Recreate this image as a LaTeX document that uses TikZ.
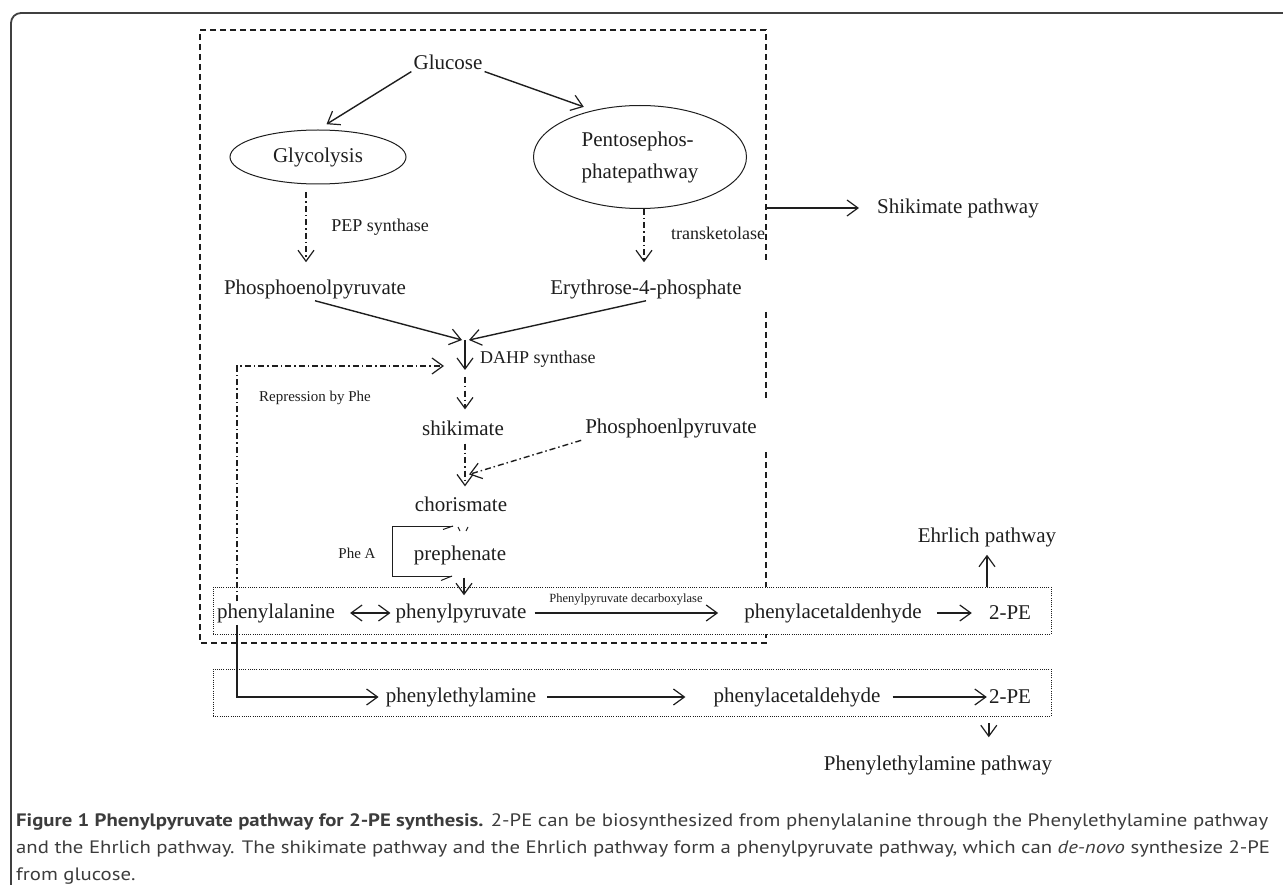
\documentclass[tikz,border=0pt]{standalone}
\usepackage{fontspec}
\setmainfont{Liberation Serif}
\newfontfamily\capfont{PT Sans}
\usetikzlibrary{arrows.meta,shapes.geometric,calc}
\definecolor{ink}{HTML}{1E1E1E}
\definecolor{captxt}{HTML}{3C3C3C}
\newlength{\capw}
\newcommand{\capfontsz}{\capfont\fontsize{18}{22}\selectfont}
\newcommand{\capone}{\textbf{Figure 1 Phenylpyruvate pathway for 2-PE synthesis.} 2-PE can be biosynthesized from phenylalanine through the Phenylethylamine pathway}
\newcommand{\captwo}{and the Ehrlich pathway. The shikimate pathway and the Ehrlich pathway form a phenylpyruvate pathway, which can \textit{de-novo} synthesize 2-PE}
\newcommand{\capthree}{from glucose.}
\AtBeginDocument{%
  \settowidth{\capw}{\capfontsz\capone}%
  \pgfmathsetmacro\capsx{1252/\capw}}

\begin{document}
\begin{tikzpicture}[x=1pt,y=-1pt,
  barb/.tip={Straight Barb[length=11pt,width=16pt,line width=1.2pt]},
  lbl/.style={font=\fontsize{21}{25}\selectfont, text=ink, inner sep=2pt},
  enz/.style={font=\fontsize{18}{21}\selectfont, text=ink, inner sep=1pt},
  small/.style={font=\fontsize{15}{18}\selectfont, text=ink, inner sep=1pt},
  arr/.style={draw=ink, line width=1.4pt, -barb},
  dblarr/.style={arr, barb-barb},
  dasharr/.style={arr, dash pattern=on 6pt off 3pt on 1.5pt off 3pt},
  dashbox/.style={draw=ink, line width=1.1pt, dash pattern=on 6pt off 4pt},
  dotbox/.style={draw=ink, line width=0.9pt, dash pattern=on 1pt off 1.2pt, fill=white,
    minimum width=838pt, minimum height=47pt, inner sep=0pt}]

\useasboundingbox (0,0) rectangle (1283,885);

% frame of the figure
\draw[line width=1.8pt, black!75, rounded corners=10pt] (1283,13) -- (11,13) -- (11,885);

% shikimate pathway box
\draw[dashbox] (766,260) -- (766,30) -- (200,30) -- (200,643) -- (766,643) -- (766,450);
\draw[dashbox] (766,312) -- (766,398);

% Ehrlich and phenylethylamine rows
\node[dotbox] (ehrbox) at (632,610.5) {};
\node[dotbox] (peabox) at (632,692.5) {};

% upper part
\node[lbl] (glucose) at (448,62) {Glucose};
\node[lbl, draw=ink, line width=1pt, ellipse, minimum width=176pt, minimum height=54pt, inner sep=0pt] (glyco) at (318,157) {Glycolysis};
\node[lbl, draw=ink, line width=1pt, ellipse, minimum width=213pt, minimum height=103pt, inner sep=0pt,
  align=left, font=\fontsize{21}{32}\selectfont] (ppp) at (640,157) {Pentosephos-\\phatepathway};
\node[enz] (pepsyn) at (380,227) {PEP synthase};
\node[enz] (transk) at (718,233) {transketolase};
\node[lbl] (pep) at (315,289) {Phosphoenolpyruvate};
\node[lbl] (e4p) at (646,289) {Erythrose-4-phosphate};
\node[lbl, anchor=west] (shikpath) at (875,208) {Shikimate pathway};
\coordinate (skout) at (766,208);
\coordinate (dahp) at (465,340);
\coordinate (rtip) at (444,366);
\node[enz, anchor=west] (dahplbl) at (479,359) {DAHP synthase};
\node[small] (repress) at (315,398) {Repression by Phe};
\node[lbl] (shik) at (463,428) {shikimate};
\node[lbl] (pep2) at (671,428) {Phosphoenlpyruvate};
\node[lbl] (chor) at (461,504) {chorismate};
\node[small] (phea) at (357,553) {Phe A};
\node[lbl] (preph) at (460,555) {prephenate};

% rows
\node[lbl] (phe) at (276,613) {phenylalanine};
\node[lbl] (phpyr) at (461,613) {phenylpyruvate};
\node[font=\fontsize{12.5}{15}\selectfont, text=ink, inner sep=1pt] (decarb) at (626,600) {Phenylpyruvate decarboxylase};
\node[lbl] (phald) at (833,613) {phenylacetaldenhyde};
\node[lbl] (twope) at (1010,613) {2-PE};
\node[lbl] (ehrlich) at (987,537) {Ehrlich pathway};
\node[lbl] (pheam) at (461,697) {phenylethylamine};
\node[lbl] (phacet) at (797,697) {phenylacetaldehyde};
\node[lbl] (twopeb) at (1010,697) {2-PE};
\node[lbl] (pheampath) at (938,765) {Phenylethylamine pathway};

% connectors
\draw[arr, shorten >=10pt] (glucose.south west) -- (glyco.north);
\draw[arr, shorten >=10pt] (glucose.south east) -- (ppp.135);
\draw[dasharr, shorten <=8pt, shorten >=15pt] ([xshift=-12pt]glyco.south) -- ([xshift=-12pt]glyco.south |- pep.north);
\draw[dasharr, shorten >=15pt] ([xshift=4pt]ppp.south) -- ([xshift=4pt]ppp.south |- e4p.north);
\draw[arr, shorten >=16pt] (skout) -- (shikpath.west);
\draw[arr] (pep.south) -- ([xshift=-3pt]dahp);
\draw[arr] (e4p.south) -- ([xshift=4pt]dahp);
\draw[arr] (dahp) -- ++(0,30) coordinate (dahpout);
\draw[dasharr, shorten <=7pt, shorten >=9pt] (dahpout) -- (dahpout |- shik.north);
\draw[dasharr, shorten <=6pt, shorten >=8pt] (shik.south -| dahpout) -- (chor.north -| dahpout);
\draw[dasharr, shorten <=2pt] (pep2.south west) -- ([xshift=8pt,yshift=20pt]chor.north);
\draw[dasharr] ([xshift=-39pt]phe.north) |- (rtip);
\draw[arr, shorten >=5pt] ([xshift=-39pt]phe.south) |- (pheam.west);

% Phe A bracket
\draw[ink, line width=0.8pt] (453,526) -- (392,526) -- (392,576) -- (452,576);
\draw[ink, line width=1pt] (453,526) -- (443,529.5) (452,576) -- (441,580.5);
\draw[ink, line width=1pt] (458,527) -- (460,531) (468,527) -- (466,531);
\draw[arr, shorten <=11pt, shorten >=6pt] ([xshift=4pt]preph.south) -- ([xshift=4pt]preph.south |- phpyr.north);

\draw[dblarr, shorten <=13pt, shorten >=3pt] (phe.east) -- (phpyr.west);
\draw[arr, shorten <=6pt, shorten >=24pt] (phpyr.east) -- (phald.west);
\draw[arr, shorten <=13pt, shorten >=15pt] (phald.east) -- (twope.west);
\draw[arr, shorten >=6pt] (ehrlich.south |- ehrbox.north) -- (ehrlich.south);
\draw[arr, shorten <=9pt, shorten >=26pt] (pheam.east) -- (phacet.west);
\draw[arr, shorten <=10pt] (phacet.east) -- (twopeb.west);
\draw[arr, shorten <=17pt, shorten >=16pt] ([xshift=2pt]twopeb.south west) -- ([xshift=2pt]twopeb.south west |- pheampath.north);

% caption
\node[anchor=base west, inner sep=0pt, text=captxt] (cap1) at (16,826) {\capfontsz\scalebox{\capsx}[1]{\capone}};
\node[anchor=base west, inner sep=0pt, text=captxt] (cap2) at (16,853) {\capfontsz\scalebox{\capsx}[1]{\captwo}};
\node[anchor=base west, inner sep=0pt, text=captxt] (cap3) at (16,880) {\capfontsz\scalebox{\capsx}[1]{\capthree}};
\end{tikzpicture}
\end{document}
